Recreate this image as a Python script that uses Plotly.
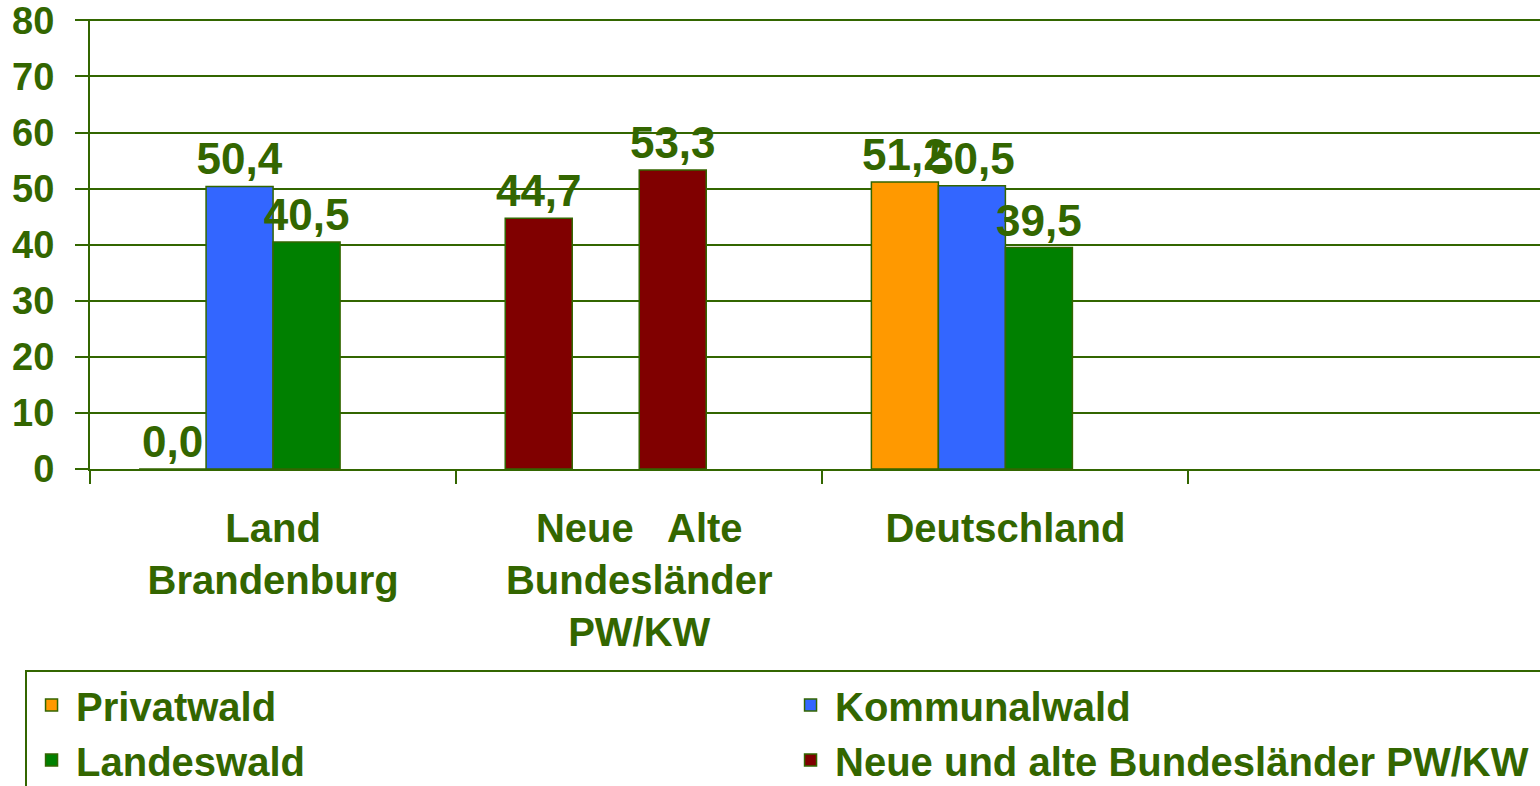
import plotly.graph_objects as go

categories = ["Land<br>Brandenburg", "Neue\u00a0\u00a0\u00a0Alte<br>Bundesländer<br>PW/KW", "Deutschland"]
privatwald = [0.0, 44.7, 51.2]
kommunalwald = [50.4, None, 50.5]
landeswald = [40.5, 53.3, 39.5]
neue_alte = [None, None, None]

GREEN_TXT = "#336600"
C_PRIV = "#FF9900"
C_KOMM = "#3366FF"
C_LAND = "#008000"
C_NA = "#800000"

priv_colors = [C_PRIV, C_NA, C_PRIV]
land_colors = [C_LAND, C_NA, C_LAND]

FONT = "Liberation Sans, Arial, sans-serif"

def bar(name, y, color):
    return go.Bar(
        name=name, x=categories, y=y,
        marker=dict(color=color, line=dict(color=GREEN_TXT, width=1.5)),
        texttemplate="%{y:.1f}", textposition="outside", constraintext="none",
        cliponaxis=False,
        textfont=dict(family=FONT, size=44, color=GREEN_TXT, weight=700),
    )

fig = go.Figure([
    bar("Privatwald", privatwald, priv_colors),
    bar("Kommunalwald", kommunalwald, C_KOMM),
    bar("Landeswald", landeswald, land_colors),
    bar("Neue und alte Bundesländer PW/KW", neue_alte, C_NA),
])

fig.update_layout(
    width=1540, height=786,
    margin=dict(l=90, r=0, t=19, b=317, autoexpand=False),
    paper_bgcolor="white", plot_bgcolor="white",
    barmode="group", bargap=0.268, bargroupgap=0,
    separators=",.",
    font=dict(family=FONT, color=GREEN_TXT, size=40, weight=700),
    showlegend=True,
    legend=dict(
        orientation="h", x=-0.0448, xanchor="left", y=-0.4477, yanchor="top",
        entrywidth=705, entrywidthmode="pixels", itemwidth=39,
        bordercolor=GREEN_TXT, borderwidth=2,
        font=dict(family=FONT, size=40, color=GREEN_TXT, weight=700),
        traceorder="normal",
    ),
)

fig.update_yaxes(
    range=[0, 80.25], dtick=10, tick0=0,
    showgrid=True, gridcolor=GREEN_TXT, gridwidth=2,
    showline=True, linecolor=GREEN_TXT, linewidth=2,
    ticks="outside", ticklen=13, tickcolor=GREEN_TXT, tickwidth=2,
    ticklabelstandoff=13, ticklabeloverflow="allow",
    tickfont=dict(family=FONT, size=38, color=GREEN_TXT, weight=700),
    zeroline=False,
)
fig.update_xaxes(
    range=[-0.5, 3.46],
    showgrid=False,
    showline=True, linecolor=GREEN_TXT, linewidth=2,
    ticks="outside", ticklen=13, tickcolor=GREEN_TXT, tickwidth=2,
    tickson="boundaries",
    ticklabelstandoff=23, ticklabeloverflow="allow",
    tickfont=dict(family=FONT, size=40, color=GREEN_TXT, weight=700),
)

fig.write_html(
    "out.html",
    config={"displayModeBar": False},
    post_script="document.body.style.margin='0px';",
)
